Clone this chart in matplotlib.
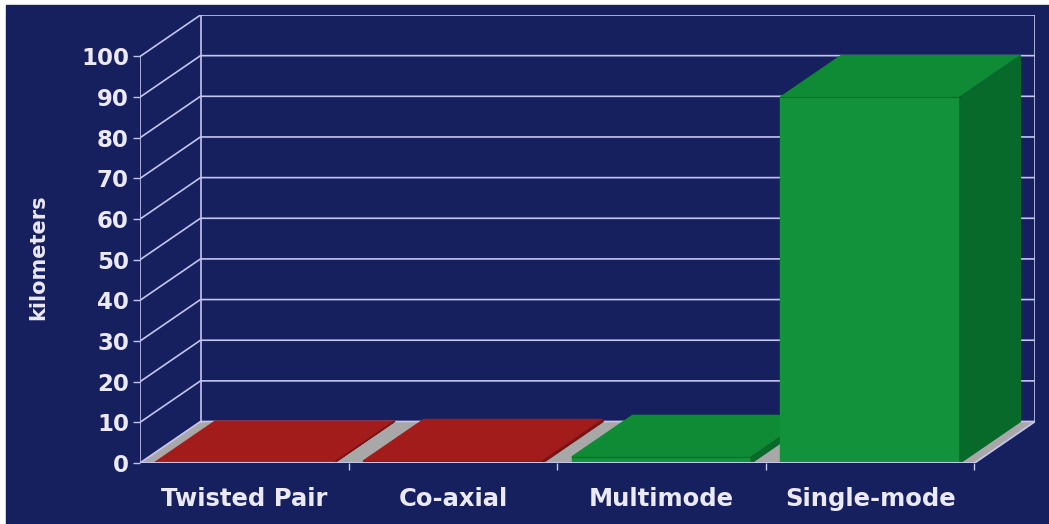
import matplotlib
matplotlib.use("Agg")
import matplotlib.pyplot as plt
from matplotlib.patches import Polygon, Rectangle

# data
categories = ["Twisted Pair", "Co-axial", "Multimode", "Single-mode"]
distance_km = [0.1, 0.5, 1.5, 90]
y_ticks = list(range(0, 101, 10))

# look
navy = "#17205f"
grid_col = "#c4c4f0"
text_col = "#ebe8f7"
floor_col = "#a8a8a8"
faces = {
    "red": ("#a81f1f", "#a31c1c", "#7a1414"),
    "green": ("#12923a", "#0f8a35", "#076a2b"),
}
bar_colors = ["red", "red", "green", "green"]

DX, DY = 0.29, 10.2   # depth offset in data units
BW = 0.86             # bar width share of a category
n = len(categories)
ymax = y_ticks[-1]

fig = plt.figure(figsize=(10.49, 5.24), dpi=100)
fig.patch.set_facecolor("white")
fig.add_artist(Rectangle((6 / 1049, 0), 1, (524 - 5) / 524,
                         transform=fig.transFigure, color=navy, zorder=0))

ax = fig.add_axes([140 / 1049, (524 - 463) / 524, 895 / 1049, 448 / 524])
ax.patch.set_visible(False)
ax.set_xlim(0, n + DX)
ax.set_ylim(0, ymax + DY)
for s in ax.spines.values():
    s.set_visible(False)

lw = 1.2
# floor
ax.add_patch(Polygon([(0, 0), (n, 0), (n + DX, DY), (DX, DY)],
                     closed=True, color=floor_col, zorder=1))

# walls: grid lines
for t in y_ticks:
    ax.plot([0, DX, n + DX], [t, t + DY, t + DY], color=grid_col, lw=lw, zorder=2)
ax.plot([DX, DX], [DY, ymax + DY], color=grid_col, lw=lw, zorder=2)
ax.plot([n + DX, n + DX], [DY, ymax + DY], color=grid_col, lw=lw, zorder=2)
ax.plot([n, n + DX], [0, DY], color=grid_col, lw=lw, zorder=2)

# bars
for i, (v, c) in enumerate(zip(distance_km, bar_colors)):
    front, top, side = faces[c]
    xl = i + (1 - BW) / 2
    xr = xl + BW
    ax.add_patch(Polygon([(xl, 0), (xr, 0), (xr, v), (xl, v)],
                         closed=True, color=front, zorder=3))
    ax.add_patch(Polygon([(xl, v), (xr, v), (xr + DX, v + DY), (xl + DX, v + DY)],
                         closed=True, color=top, zorder=3))
    ax.add_patch(Polygon([(xr, 0), (xr + DX, DY), (xr + DX, v + DY), (xr, v)],
                         closed=True, color=side, zorder=3))
    ax.plot([xl, xr], [v, v], color="#000000", alpha=0.25, lw=0.8, zorder=4)

# front axes
ax.plot([0, 0], [0, ymax], color=grid_col, lw=lw, zorder=5)
ax.plot([0, n], [0, 0], color=grid_col, lw=lw + 0.3, zorder=5)

ax.set_yticks(y_ticks)
ax.set_yticklabels([str(t) for t in y_ticks])
ax.tick_params(axis="y", length=5, width=1, color=grid_col, pad=3,
               labelsize=16.5, labelcolor=text_col)
ax.set_xticks(range(1, n + 1))
ax.set_xticklabels([""] * n)
ax.tick_params(axis="x", which="major", length=5, width=1, color=grid_col)
ax.set_xticks([i + 0.5 for i in range(n)], categories, minor=True)
ax.tick_params(axis="x", which="minor", length=0, pad=17,
               labelsize=17.5, labelcolor=text_col)
for lab in ax.get_yticklabels() + ax.get_xticklabels(minor=True):
    lab.set_fontweight("bold")

ax.set_ylabel("kilometers", fontsize=15, fontweight="bold", color=text_col)
ax.yaxis.set_label_coords(-92 / 895, (463 - 257) / 448)

fig.savefig("out.png", dpi=100, facecolor=fig.get_facecolor())
